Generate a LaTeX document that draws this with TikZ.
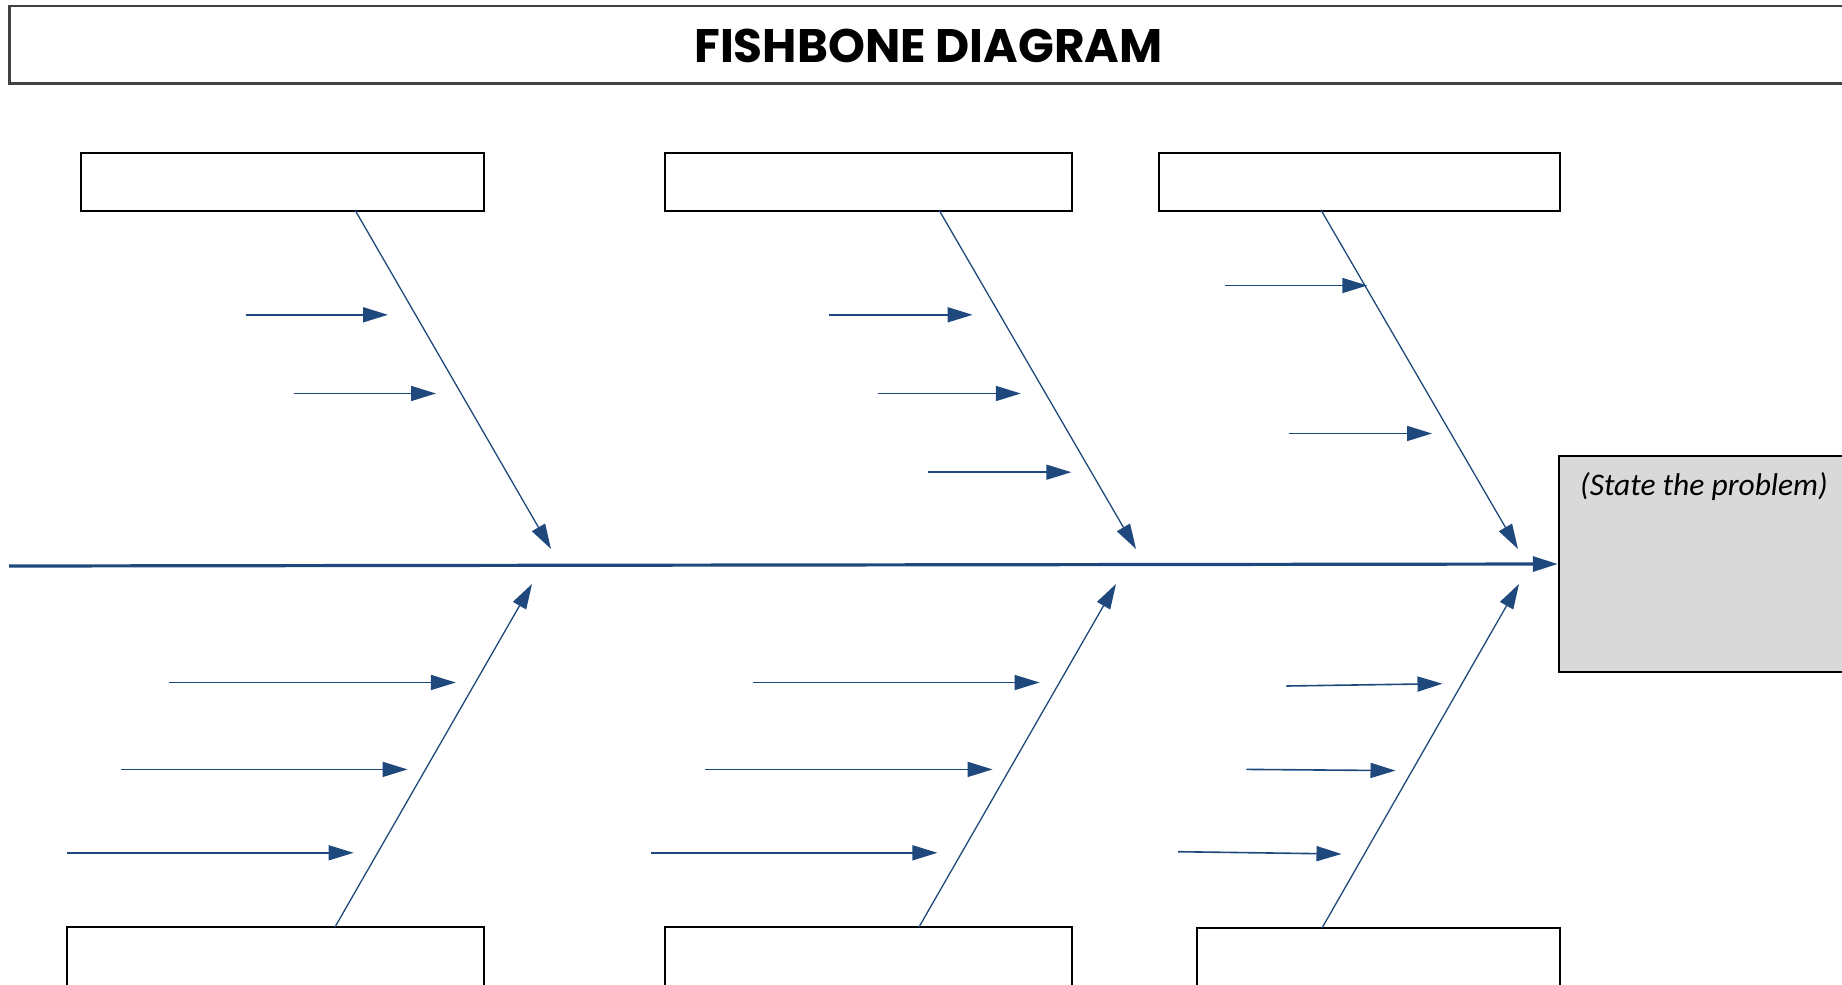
\documentclass[tikz,border=0pt]{standalone}
\usepackage{fontspec}
\usetikzlibrary{arrows.meta}
\newfontfamily\titlefont[Scale=1]{Poppins}
\newfontfamily\probfont{Carlito}
\definecolor{bone}{HTML}{1F497D}
\definecolor{probgray}{HTML}{D9D9D9}
\definecolor{framegray}{HTML}{404040}
\tikzset{
  x=1pt, y=-1pt,
  catbox/.style={draw=black, line width=2pt, fill=white, inner sep=0pt, minimum height=58pt},
  lowbox/.style={draw=black, line width=2pt, fill=white, inner sep=0pt, minimum height=74pt},
  tip/.style={-{Triangle[length=25pt,width=15pt]}},
  rib/.style={bone, line width=1.3pt, tip},
  sub/.style={bone, line width=1.6pt, tip},
  spine/.style={bone, line width=3.2pt, tip},
}
\begin{document}
\begin{tikzpicture}
\useasboundingbox (0,0) rectangle (1842,985);
\clip (0,0) rectangle (1842,985);
% title
\node[draw=framegray, line width=2.5pt, inner sep=0pt, minimum width=1841pt, minimum height=77.5pt] (title) at (930,44.75) {};
\node[font=\titlefont\bfseries\fontsize{47}{52}\selectfont] (ttext) at (928.5,46) {FISHBONE DIAGRAM};
% category boxes
\node[catbox, minimum width=403pt] (t1) at (282.5,182) {};
\node[catbox, minimum width=407pt] (t2) at (868.5,182) {};
\node[catbox, minimum width=401pt] (t3) at (1359.5,182) {};
\node[lowbox, minimum width=417pt] (b1) at (275.5,964) {};
\node[lowbox, minimum width=407pt] (b2) at (868.5,964) {};
\node[lowbox, minimum width=363pt] (b3) at (1378.5,965) {};
% problem box
\node[draw=black, line width=2.5pt, fill=probgray, inner sep=0pt, minimum width=291pt, minimum height=216pt] (prob) at (1704.5,564) {};
\node[font=\probfont\itshape\fontsize{31.5}{36}\selectfont, anchor=base west, inner sep=0pt] (ptext) at (1580,495) {(State the problem)};
% spine
\coordinate (tail) at (9,566);
\draw[spine] (tail) -- (prob.west);
% top ribs
\coordinate (u1s) at (355,210); \coordinate (u1e) at (551,549);
\coordinate (u2s) at (939,210); \coordinate (u2e) at (1136,549);
\coordinate (u3s) at (1321,210); \coordinate (u3e) at (1518,549);
\draw[rib] (u1s) -- (u1e);
\draw[rib] (u2s) -- (u2e);
\draw[rib] (u3s) -- (u3e);
% bottom ribs
\coordinate (l1s) at (335,927); \coordinate (l1e) at (532,584);
\coordinate (l2s) at (919,927); \coordinate (l2e) at (1116,584);
\coordinate (l3s) at (1322,928); \coordinate (l3e) at (1519,584);
\draw[rib] (l1s) -- (l1e);
\draw[rib] (l2s) -- (l2e);
\draw[rib] (l3s) -- (l3e);
% sub-cause arrows, top
\coordinate (a1s) at (245.5,314.8); \coordinate (a1e) at (388,314.8);
\coordinate (a2s) at (293.7,393.5); \coordinate (a2e) at (436,393.5);
\coordinate (a3s) at (829.3,314.8); \coordinate (a3e) at (972.6,314.8);
\coordinate (a4s) at (877.5,393.5); \coordinate (a4e) at (1020.8,393.5);
\coordinate (a5s) at (928,472.2); \coordinate (a5e) at (1071.3,472.2);
\coordinate (a6s) at (1225.2,285.5); \coordinate (a6e) at (1367.3,285.5);
\coordinate (a7s) at (1288.6,433.5); \coordinate (a7e) at (1432,433.5);
\foreach \n in {1,...,7} { \draw[sub] (a\n s) -- (a\n e); }
% sub-cause arrows, bottom
\coordinate (c1s) at (169.2,682.5); \coordinate (c1e) at (455.8,682.5);
\coordinate (c2s) at (121,769.4); \coordinate (c2e) at (407.6,769.4);
\coordinate (c3s) at (67,852.8); \coordinate (c3e) at (353.6,852.8);
\coordinate (c4s) at (753,682.5); \coordinate (c4e) at (1039.6,682.5);
\coordinate (c5s) at (704.8,769.4); \coordinate (c5e) at (992.6,769.4);
\coordinate (c6s) at (650.8,852.8); \coordinate (c6e) at (937.4,852.8);
\coordinate (c7s) at (1286.3,686); \coordinate (c7e) at (1442.5,683.7);
\coordinate (c8s) at (1246.4,769.4); \coordinate (c8e) at (1395.5,770.6);
\coordinate (c9s) at (1178.2,851.7); \coordinate (c9e) at (1341.5,854);
\foreach \n in {1,...,9} { \draw[sub] (c\n s) -- (c\n e); }
\end{tikzpicture}
\end{document}
